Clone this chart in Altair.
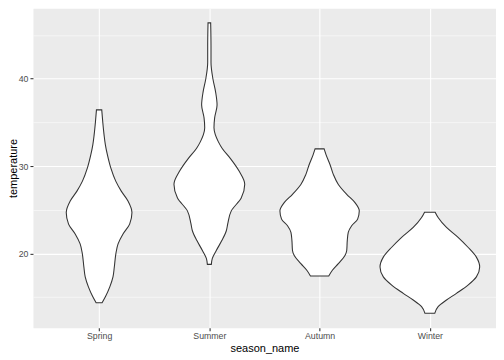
import altair as alt
import pandas as pd

seasons = ["Spring", "Summer", "Autumn", "Winter"]

# violin outlines: temperature and half-width (in category units)
spring_temp = [14.37, 15.05, 16.18, 17.32, 18.45, 19.96, 21.10, 22.23, 23.36, 24.68,
               26.00, 27.13, 28.27, 29.78, 31.29, 32.42, 33.56, 35.06, 36.42]
spring_half = [0.027, 0.057, 0.097, 0.126, 0.138, 0.152, 0.172, 0.217, 0.277, 0.298,
               0.262, 0.201, 0.151, 0.106, 0.075, 0.057, 0.045, 0.033, 0.024]

summer_temp = [18.75, 19.43, 20.34, 21.47, 22.60, 23.40, 24.87, 26.34, 27.92, 29.39, 30.87,
               32.00, 32.79, 33.58, 34.37, 35.51, 36.98, 38.45, 39.92, 41.84, 43.77, 46.37]
summer_half = [0.018, 0.027, 0.063, 0.113, 0.154, 0.167, 0.199, 0.289, 0.321, 0.271, 0.190,
               0.117, 0.081, 0.054, 0.042, 0.048, 0.070, 0.057, 0.033, 0.015, 0.015, 0.012]

autumn_temp = [17.43, 18.08, 18.83, 19.77, 20.34, 21.47, 22.41, 23.17, 23.93, 24.87,
               25.81, 26.76, 27.89, 29.02, 30.15, 31.28, 31.96]
autumn_half = [0.083, 0.116, 0.170, 0.230, 0.246, 0.251, 0.260, 0.291, 0.345, 0.360,
               0.321, 0.246, 0.170, 0.125, 0.095, 0.059, 0.041]

winter_temp = [13.17, 13.92, 14.68, 15.44, 16.38, 17.32, 18.45, 19.58, 20.71, 21.85,
               22.98, 24.11, 24.72]
winter_half = [0.045, 0.075, 0.151, 0.241, 0.346, 0.422, 0.452, 0.422, 0.346, 0.256,
               0.151, 0.075, 0.048]

temps = [spring_temp, summer_temp, autumn_temp, winter_temp]
halves = [spring_half, summer_half, autumn_half, winter_half]

rows = []
for i, (name, ts, hs) in enumerate(zip(seasons, temps, halves)):
    for t, h in zip(ts, hs):
        rows.append({"season_name": name, "temperature": t, "left": i - h, "right": i + h})
df = pd.DataFrame(rows)

lo = df["temperature"].min()
hi = df["temperature"].max()
pad = 0.05 * (hi - lo)

FONT = "Liberation Sans"
label_expr = "[" + ",".join("'" + s + "'" for s in seasons) + "][datum.value]"
major = "datum.value % 10 == 0"

x_axis = alt.Axis(
    values=list(range(len(seasons))), labelExpr=label_expr, title="season_name",
    domain=False, grid=True, gridColor="white", gridWidth=1.07,
    tickColor="#333333", tickSize=3, tickWidth=1.07,
    labelColor="#4D4D4D", labelFontSize=8.8, labelFont=FONT, labelPadding=1,
    titleFont=FONT, titleFontSize=11, titleColor="black", titleFontWeight="normal",
    titlePadding=2,
)
y_axis = alt.Axis(
    values=[15, 20, 25, 30, 35, 40, 45],
    labelExpr="datum.value % 10 == 0 ? datum.label : ''",
    title="temperature",
    domain=False, grid=True, gridColor="white",
    gridWidth={"condition": {"test": major, "value": 1.07}, "value": 0.53},
    tickColor="#333333", tickSize=3, tickWidth=1.07,
    tickOpacity={"condition": {"test": major, "value": 1}, "value": 0},
    labelColor="#4D4D4D", labelFontSize=8.8, labelFont=FONT, labelPadding=2,
    titleFont=FONT, titleFontSize=11, titleColor="black", titleFontWeight="normal",
    titleX=-14,
)

chart = alt.Chart(df).mark_area(
    orient="horizontal", interpolate="monotone",
    fill="white", fillOpacity=1, stroke="#333333", strokeWidth=1.07,
).encode(
    x=alt.X("left:Q", scale=alt.Scale(domain=[-0.6, len(seasons) - 0.4], nice=False, zero=False), axis=x_axis),
    x2="right:Q",
    y=alt.Y("temperature:Q", scale=alt.Scale(domain=[lo - pad, hi + pad], nice=False, zero=False), axis=y_axis),
    detail="season_name:N",
).properties(
    width=464, height=320, padding=0,
).configure_view(
    fill="#EBEBEB", stroke="transparent",
)

chart.save("out.html", embed_options={"renderer": "svg", "actions": False})
